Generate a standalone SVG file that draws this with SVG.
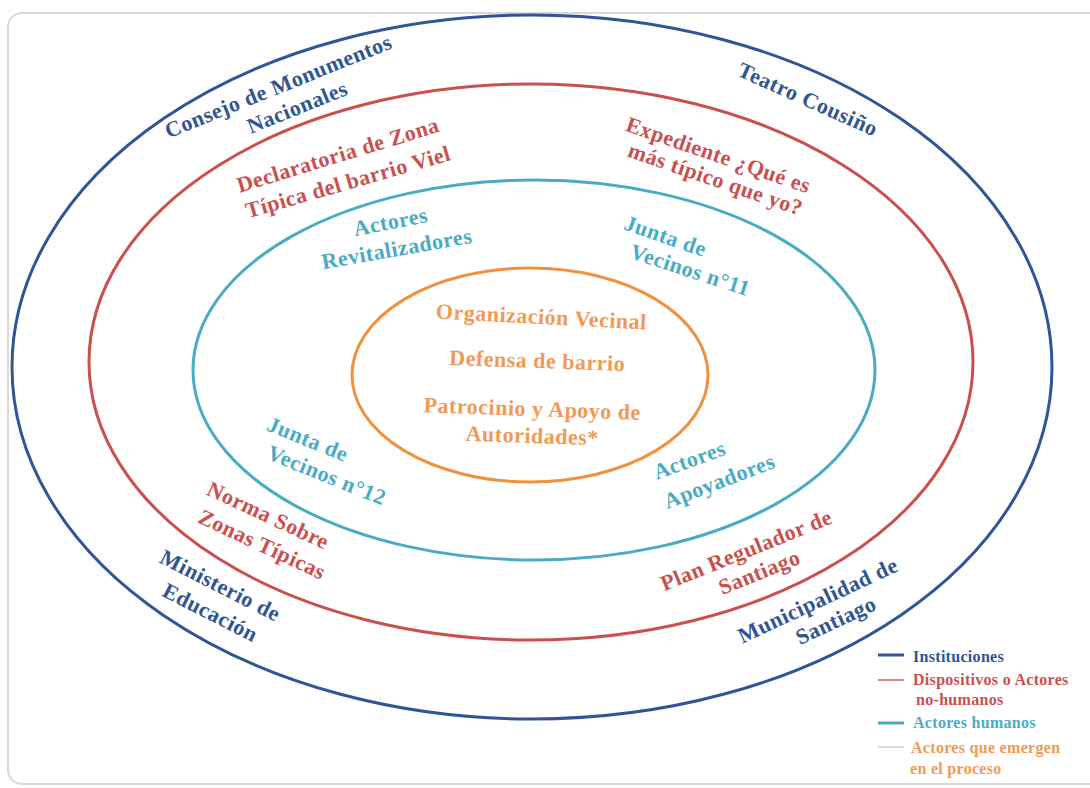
<svg xmlns="http://www.w3.org/2000/svg" width="1090" height="788" viewBox="0 0 1090 788">
<style>
.t{font-family:"Liberation Serif","DejaVu Serif",serif;font-weight:bold;font-size:22px;letter-spacing:0.5px;text-anchor:middle}
.b{fill:#2f5592}.r{fill:#c9504e}.c{fill:#4aabc5}.o{fill:#f29a55}
.lg{font-family:"Liberation Serif","DejaVu Serif",serif;font-weight:bold;font-size:16px;letter-spacing:0.3px}
.ring{fill:none;stroke-width:3}
</style>
<rect x="0" y="0" width="1090" height="788" fill="#ffffff"/>
<rect x="8" y="13" width="1110" height="771" rx="14" fill="#ffffff" stroke="#d9d9d9" stroke-width="2"/>
<g id="connectors"></g>
<g id="ring-instituciones"><ellipse class="ring" cx="532" cy="367" rx="520" ry="352" stroke="#2f5597"/></g>
<g id="ring-dispositivos"><ellipse class="ring" cx="531" cy="362" rx="442" ry="278" stroke="#c9504e"/></g>
<g id="ring-humanos"><ellipse class="ring" cx="534" cy="370" rx="341" ry="190" stroke="#4aabc5"/></g>
<g id="ring-emergen"><ellipse class="ring" cx="530" cy="375" rx="178" ry="107" stroke="#f0913f"/></g>

<g id="n-consejo" class="t b">
<text transform="translate(281,93) rotate(-22)">Consejo de Monumentos</text>
<text transform="translate(300,114) rotate(-22)">Nacionales</text>
</g>
<g id="n-teatro" class="t b"><text transform="translate(805,106) rotate(24)">Teatro Cousiño</text></g>
<g id="n-declaratoria" class="t r">
<text transform="translate(340,162) rotate(-17)">Declaratoria de Zona</text>
<text transform="translate(350,189) rotate(-16)">Típica del barrio Viel</text>
</g>
<g id="n-expediente" class="t r">
<text transform="translate(716,162) rotate(19)">Expediente ¿Qué es</text>
<text transform="translate(713,186) rotate(19)">más típico que yo?</text>
</g>
<g id="n-revitalizadores" class="t c">
<text transform="translate(392,229) rotate(-11)">Actores</text>
<text transform="translate(398,256) rotate(-10)">Revitalizadores</text>
</g>
<g id="n-junta11" class="t c">
<text transform="translate(663,243) rotate(19)">Junta de</text>
<text transform="translate(688,277) rotate(18)">Vecinos n°11</text>
</g>
<g id="n-centro" class="t o">
<text transform="translate(541,324) rotate(3)">Organización Vecinal</text>
<text transform="translate(537,368) rotate(2)">Defensa de barrio</text>
<text transform="translate(532,416) rotate(2)">Patrocinio y Apoyo de</text>
<text transform="translate(532,443) rotate(2)">Autoridades*</text>
</g>
<g id="n-junta12" class="t c">
<text transform="translate(305,446) rotate(22)">Junta de</text>
<text transform="translate(324,482) rotate(22)">Vecinos n°12</text>
</g>
<g id="n-norma" class="t r">
<text transform="translate(265,522) rotate(25)">Norma Sobre</text>
<text transform="translate(259,551) rotate(25)">Zonas Típicas</text>
</g>
<g id="n-ministerio" class="t b">
<text transform="translate(217,592) rotate(27)">Ministerio de</text>
<text transform="translate(207,619) rotate(27)">Educación</text>
</g>
<g id="n-apoyadores" class="t c">
<text transform="translate(692,467) rotate(-20)">Actores</text>
<text transform="translate(722,488) rotate(-21)">Apoyadores</text>
</g>
<g id="n-plan" class="t r">
<text transform="translate(749,557) rotate(-22)">Plan Regulador de</text>
<text transform="translate(762,579) rotate(-22)">Santiago</text>
</g>
<g id="n-municipalidad" class="t b">
<text transform="translate(821,607) rotate(-25)">Municipalidad de</text>
<text transform="translate(839,627) rotate(-25)">Santiago</text>
</g>

<g id="legend">
<line x1="878" y1="655" x2="904" y2="655" stroke="#2f5597" stroke-width="3"/>
<text class="lg b" x="913" y="662">Instituciones</text>
<line x1="878" y1="680" x2="904" y2="680" stroke="#e08a88" stroke-width="2"/>
<text class="lg r" x="913" y="685">Dispositivos o Actores</text>
<text class="lg r" x="916" y="705">no-humanos</text>
<line x1="878" y1="723" x2="904" y2="723" stroke="#4aabc5" stroke-width="3"/>
<text class="lg c" x="913" y="728">Actores humanos</text>
<line x1="878" y1="747" x2="904" y2="747" stroke="#dde0cc" stroke-width="2"/>
<text class="lg o" x="911" y="753">Actores que emergen</text>
<text class="lg o" x="910" y="774">en el proceso</text>
</g>
</svg>
